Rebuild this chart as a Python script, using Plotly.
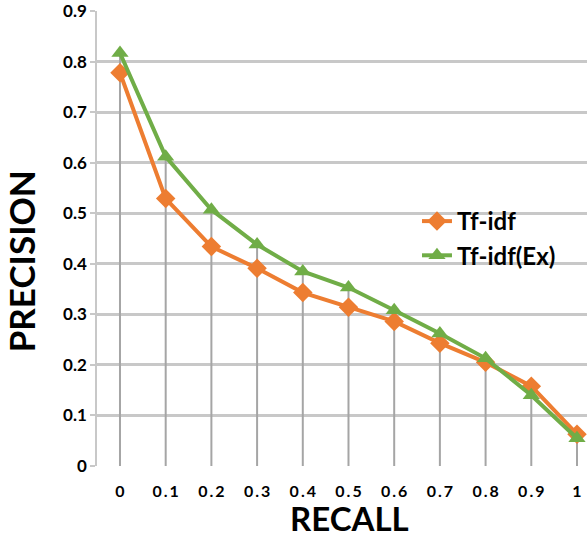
import plotly.graph_objects as go

recall = [0, 0.1, 0.2, 0.3, 0.4, 0.5, 0.6, 0.7, 0.8, 0.9, 1.0]
tfidf = [0.778, 0.529, 0.434, 0.391, 0.343, 0.314, 0.286, 0.243, 0.205, 0.158, 0.063]
tfidf_ex = [0.817, 0.612, 0.507, 0.438, 0.385, 0.353, 0.308, 0.262, 0.213, 0.140, 0.055]
x_ticktext = ["0", "0\u2009.\u20091", "0\u2009.\u20092", "0\u2009.\u20093", "0\u2009.\u20094", "0\u2009.\u20095",
              "0\u2009.\u20096", "0\u2009.\u20097", "0\u2009.\u20098", "0\u2009.\u20099", "1"]
y_ticks = [0, 0.1, 0.2, 0.3, 0.4, 0.5, 0.6, 0.7, 0.8, 0.9]
y_ticktext = ["0", "0.1", "0.2", "0.3", "0.4", "0.5", "0.6", "0.7", "0.8", "0.9"]

FONT = "Lato"
ORANGE = "#ED7D31"
GREEN = "#70AD47"
GRID = "#C8C8C8"
X_RANGE = [-0.0503, 1.0219]

# drop lines from highest point to zero
dx, dy = [], []
for xi, a, b in zip(recall, tfidf, tfidf_ex):
    dx += [xi, xi, None]
    dy += [0, max(a, b), None]

fig = go.Figure()
fig.add_trace(go.Scatter(x=dx, y=dy, mode="lines", line=dict(color="#A5A5A5", width=2),
                         showlegend=False, hoverinfo="skip"))
fig.add_trace(go.Scatter(x=recall, y=tfidf, mode="lines+markers", name="Tf-idf",
                         line=dict(color=ORANGE, width=4),
                         marker=dict(symbol="diamond", size=15, color=ORANGE)))
fig.add_trace(go.Scatter(x=recall, y=tfidf_ex, mode="lines+markers", name="Tf-idf(Ex)",
                         line=dict(color=GREEN, width=4),
                         marker=dict(symbol="triangle-up", size=15, color=GREEN)))

fig.update_layout(
    width=587, height=536,
    margin=dict(l=97, r=0, t=8, b=70),
    plot_bgcolor="white", paper_bgcolor="white",
    font=dict(family=FONT, color="black"),
    legend=dict(x=0.653, y=0.50, xanchor="left", yanchor="middle",
                font=dict(size=24, family=FONT, color="black", weight="bold"),
                bgcolor="rgba(0,0,0,0)", tracegroupgap=0),
    annotations=[
        dict(text="<b>PRECISION</b>", xref="paper", yref="paper", x=-0.155, y=0.45,
             xanchor="center", yanchor="middle", textangle=-90, showarrow=False,
             font=dict(size=35, family=FONT, color="black")),
        dict(text="<b>RECALL</b>", xref="paper", yref="paper", x=0.516, y=-0.114,
             xanchor="center", yanchor="middle", showarrow=False,
             font=dict(size=33, family=FONT, color="black")),
    ],
)
fig.update_xaxes(range=X_RANGE, tickvals=recall, ticktext=x_ticktext,
                 showgrid=False, zeroline=False, showline=False,
                 tickfont=dict(size=16, family=FONT, color="black", weight="bold"),
                 ticks="", ticklabelstandoff=14)
fig.update_yaxes(range=[0, 0.9001], autorange=False, tickmode="array",
                 tickvals=y_ticks, ticktext=y_ticktext, ticklabeloverflow="allow",
                 showgrid=True, gridcolor=GRID, gridwidth=2.5,
                 zeroline=False, showline=True, linecolor=GRID, linewidth=1.5,
                 ticks="outside", ticklen=5, tickcolor=GRID, tickwidth=2,
                 tickfont=dict(size=17, family=FONT, color="black", weight="bold"))

fig.write_html("out.html")
